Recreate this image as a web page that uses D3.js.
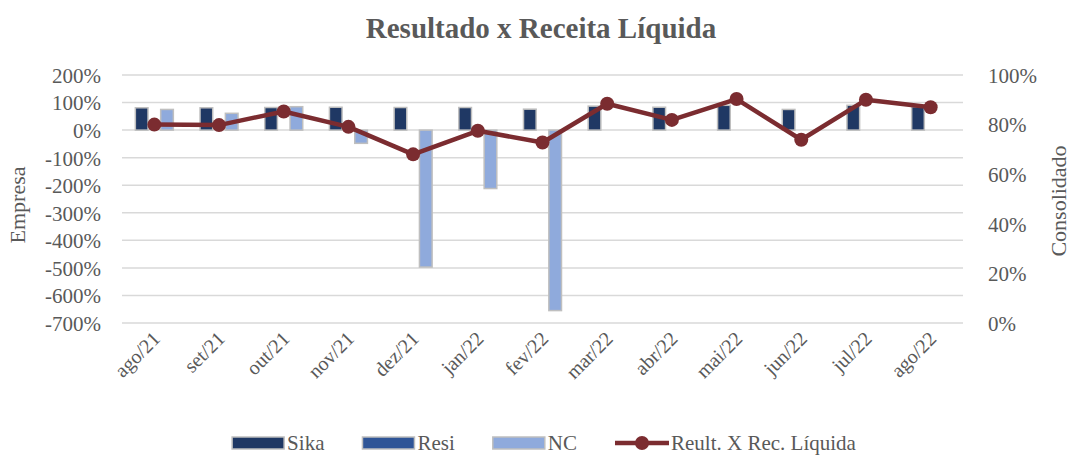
<!DOCTYPE html>
<html>
<head>
<meta charset="utf-8">
<script src="https://cdn.jsdelivr.net/npm/d3@7"></script>
<style>
  body { margin: 0; background: #fff; }
  svg { display: block; font-family: "Liberation Serif", "DejaVu Serif", serif; }
  svg text { font-family: "Liberation Serif", "DejaVu Serif", serif; }
</style>
</head>
<body>
<div id="chart"></div>
<script>
// months on the x axis
const months = ['ago/21', 'set/21', 'out/21', 'nov/21', 'dez/21', 'jan/22', 'fev/22',
                'mar/22', 'abr/22', 'mai/22', 'jun/22', 'jul/22', 'ago/22'];

// left axis (Empresa), values in %
const sika = [81, 81, 82, 83, 82, 82, 76, 87, 83, 90, 75, 90, 85];
const resi = [null, null, null, null, null, null, null, null, null, null, null, null, null];
const nc   = [75, 61, 85, -48, -497, -212, -655, null, null, null, null, null, null];

// right axis (Consolidado), values in %
const resultado = [80, 79.8, 85.3, 79.1, 68, 77.5, 72.8, 88.4, 81.9, 90.3, 73.9, 90, 87];

const leftTicks = [200, 100, 0, -100, -200, -300, -400, -500, -600, -700];
const rightTicks = [100, 80, 60, 40, 20, 0];

const series = [
  {name: 'Sika', values: sika, color: '#1F3864'},
  {name: 'Resi', values: resi, color: '#2F5597'},
  {name: 'NC', values: nc, color: '#8FAADC'}
];

const width = 1070, height = 455;
const plot = {left: 122, right: 963, top: 75, bottom: 323};
const textColor = '#595959';

const svg = d3.select('#chart').append('svg')
  .attr('width', width)
  .attr('height', height);

const x = d3.scaleBand()
  .domain(months)
  .range([plot.left, plot.right]);

const xInner = d3.scaleBand()
  .domain(series.map(s => s.name))
  .range([x.bandwidth() / 2 - 19, x.bandwidth() / 2 + 19]);

const yLeft = d3.scaleLinear()
  .domain([-700, 200])
  .range([plot.bottom, plot.top]);

const yRight = d3.scaleLinear()
  .domain([0, 100])
  .range([plot.bottom, plot.top]);

// title
svg.append('text')
  .attr('x', 541)
  .attr('y', 38)
  .attr('text-anchor', 'middle')
  .attr('fill', textColor)
  .style('font-size', '29px')
  .style('font-weight', 'bold')
  .text('Resultado x Receita Líquida');

// gridlines
svg.append('g')
  .selectAll('line')
  .data(leftTicks)
  .join('line')
    .attr('x1', plot.left)
    .attr('x2', plot.right)
    .attr('y1', d => yLeft(d))
    .attr('y2', d => yLeft(d))
    .attr('stroke', '#D9D9D9')
    .attr('stroke-width', 1.5);

// left axis
const leftAxis = svg.append('g')
  .attr('transform', `translate(${plot.left - 18},0)`)
  .call(d3.axisLeft(yLeft).tickValues(leftTicks).tickSize(0).tickFormat(d => d + '%'));
leftAxis.select('.domain').remove();
leftAxis.selectAll('text')
  .attr('fill', textColor)
  .attr('dy', '0.35em')
  .style('font-size', '21px');

// right axis
const rightAxis = svg.append('g')
  .attr('transform', `translate(${plot.right + 22},0)`)
  .call(d3.axisRight(yRight).tickValues(rightTicks).tickSize(0).tickFormat(d => d + '%'));
rightAxis.select('.domain').remove();
rightAxis.selectAll('text')
  .attr('fill', textColor)
  .attr('dy', '0.35em')
  .style('font-size', '21px');

// axis titles
svg.append('text')
  .attr('transform', `translate(25,${(plot.top + plot.bottom) / 2 + 6}) rotate(-90)`)
  .attr('text-anchor', 'middle')
  .attr('fill', textColor)
  .style('font-size', '22px')
  .text('Empresa');

svg.append('text')
  .attr('transform', `translate(1066,${(plot.top + plot.bottom) / 2 + 2}) rotate(-90)`)
  .attr('text-anchor', 'middle')
  .attr('fill', textColor)
  .style('font-size', '22px')
  .text('Consolidado');

// bars
const groups = svg.append('g')
  .selectAll('g')
  .data(series)
  .join('g')
    .attr('fill', s => s.color);

groups.selectAll('rect')
  .data(s => s.values.map((v, i) => ({name: s.name, month: months[i], value: v})).filter(d => d.value !== null))
  .join('rect')
    .attr('x', d => x(d.month) + xInner(d.name))
    .attr('width', xInner.bandwidth())
    .attr('y', d => yLeft(Math.max(0, d.value)))
    .attr('height', d => Math.abs(yLeft(d.value) - yLeft(0)))
    .attr('stroke', '#BFBFBF')
    .attr('stroke-width', 1.5);

// line on right axis
const lineColor = '#7B2C30';
const line = d3.line()
  .x((d, i) => x(months[i]) + x.bandwidth() / 2)
  .y(d => yRight(d));

svg.append('path')
  .datum(resultado)
  .attr('fill', 'none')
  .attr('stroke', lineColor)
  .attr('stroke-width', 4.5)
  .attr('stroke-linejoin', 'round')
  .attr('d', line);

svg.append('g')
  .selectAll('circle')
  .data(resultado)
  .join('circle')
    .attr('cx', (d, i) => x(months[i]) + x.bandwidth() / 2)
    .attr('cy', d => yRight(d))
    .attr('r', 7)
    .attr('fill', lineColor);

// x labels
svg.append('g')
  .selectAll('text')
  .data(months)
  .join('text')
    .attr('transform', d => `translate(${x(d) + x.bandwidth() / 2 + 7},${plot.bottom + 17}) rotate(-45)`)
    .attr('text-anchor', 'end')
    .attr('fill', textColor)
    .style('font-size', '20px')
    .text(d => d);

// legend
const legendItems = [
  ...series.map(s => ({name: s.name, color: s.color, type: 'bar'})),
  {name: 'Reult. X Rec. Líquida', color: lineColor, type: 'line'}
];
const legendGap = 38;
const legend = svg.append('g');
let lx = 0;
legendItems.forEach(item => {
  const g = legend.append('g').attr('transform', `translate(${lx},0)`);
  if (item.type === 'bar') {
    g.append('rect')
      .attr('x', 0).attr('y', -6)
      .attr('width', 52).attr('height', 12)
      .attr('fill', item.color)
      .attr('stroke', '#BFBFBF')
      .attr('stroke-width', 1.5);
  } else {
    g.append('line')
      .attr('x1', 0).attr('x2', 54)
      .attr('stroke', item.color)
      .attr('stroke-width', 4.5);
    g.append('circle')
      .attr('cx', 27).attr('r', 7)
      .attr('fill', item.color);
  }
  const t = g.append('text')
    .attr('x', item.type === 'bar' ? 55 : 56)
    .attr('dy', '0.35em')
    .attr('fill', textColor)
    .style('font-size', '21px')
    .text(item.name);
  lx += (item.type === 'bar' ? 55 : 56) + t.node().getComputedTextLength() + legendGap;
});
const legendWidth = lx - legendGap;
legend.attr('transform', `translate(${544 - legendWidth / 2},443)`);
</script>
</body>
</html>
